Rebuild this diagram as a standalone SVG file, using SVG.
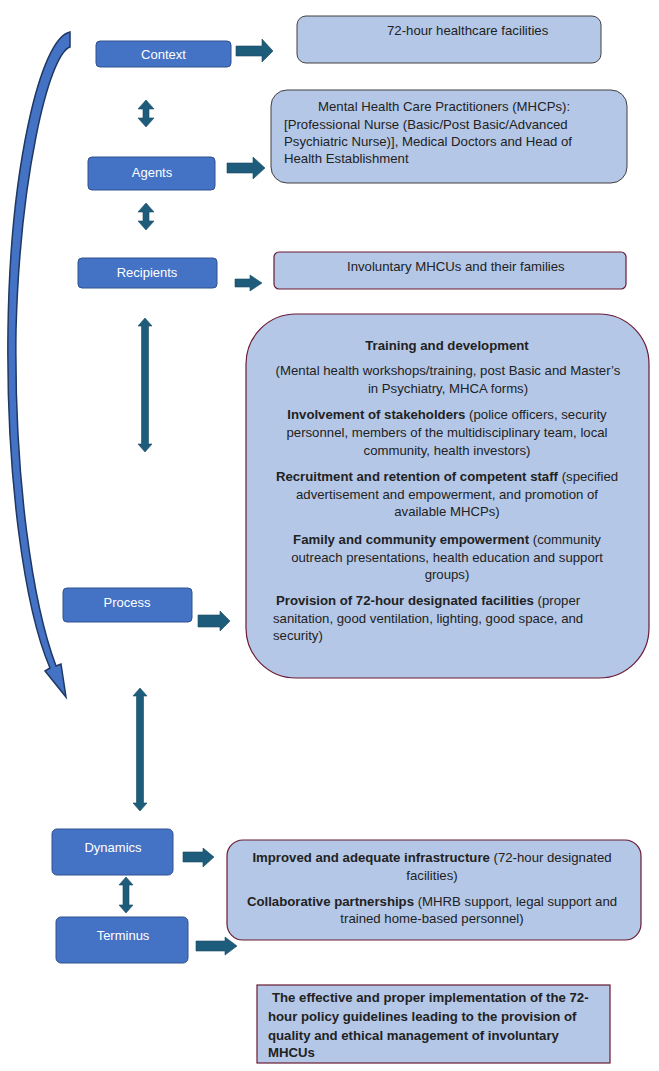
<svg xmlns="http://www.w3.org/2000/svg" width="659" height="1071" viewBox="0 0 659 1071">
<style>
.node{fill:#4472c4;stroke:#2f528f;stroke-width:1}
.ntxt{font-family:"Liberation Sans",Arial,sans-serif;font-size:13px;fill:#ffffff;text-anchor:middle}
.lbox{fill:#b4c7e7;stroke:#404040;stroke-width:1}
.mbox{fill:#b4c7e7;stroke:#6a1a33;stroke-width:1.2}
.t{font-family:"Liberation Sans",Arial,sans-serif;font-size:13.2px;fill:#222222}
.c{text-anchor:middle}
.b{font-weight:bold}
.arr{fill:#1e5c7b;stroke:#17495f;stroke-width:0.6}
.curve{fill:#4472c4;stroke:#1f3864;stroke-width:1.5;stroke-linejoin:miter}
</style>
<rect width="659" height="1071" fill="#ffffff"/>

<g id="connectors">
  <path class="curve" d="M70,32 L70,47 C48,55 20,180 16,330 C14,480 33,605 56,666 L61,664 L66,697 L45,671 L50,668 C25,610 6,480 8,330 C10,170 40,38 70,32 Z"/>
  <polygon class="arr" points="236,46 262,46 262,39 273,51 262,62 262,56 236,56"/>
  <polygon class="arr" points="227,163 253,163 253,157 265,168 253,179 253,173 227,173"/>
  <polygon class="arr" points="235,279 250,279 250,275 262,283 250,291 250,287 235,287"/>
  <polygon class="arr" points="198,615 220,615 220,611 230,621 220,631 220,627 198,627"/>
  <polygon class="arr" points="183,852 203,852 203,848 214,857 203,867 203,862 183,862"/>
  <polygon class="arr" points="196,941 225,941 225,937 237,946 225,955 225,951 196,951"/>
  <polygon class="arr" points="146,100 154,109 149,109 149,118 154,118 146,127 138,118 143,118 143,109 138,109"/>
  <polygon class="arr" points="146,203 154,212 149,212 149,221 154,221 146,230 138,221 143,221 143,212 138,212"/>
  <polygon class="arr" points="145,318 152,326 148.5,326 148.5,444 152,444 145,452 138,444 141.5,444 141.5,326 138,326"/>
  <polygon class="arr" points="140,688 147,696 143.5,696 143.5,803 147,803 140,811 133,803 136.5,803 136.5,696 133,696"/>
  <polygon class="arr" points="126,877 133,885 129,885 129,905 133,905 126,913 119,905 123,905 123,885 119,885"/>
</g>

<g id="context">
  <rect class="node" x="96" y="41" width="135" height="26" rx="4"/>
  <text class="ntxt" x="163.5" y="58.5">Context</text>
</g>
<g id="context-detail">
  <rect class="lbox" x="297" y="16" width="304" height="47" rx="9"/>
  <text class="t" x="387" y="35">72-hour healthcare facilities</text>
</g>

<g id="agents">
  <rect class="node" x="88" y="157" width="127" height="33" rx="4"/>
  <text class="ntxt" x="152" y="176.5">Agents</text>
</g>
<g id="agents-detail">
  <rect class="lbox" x="271" y="90" width="356" height="93" rx="16"/>
  <text class="t" x="318" y="111">Mental Health Care Practitioners (MHCPs):</text>
  <text class="t" x="284" y="129">[Professional Nurse (Basic/Post Basic/Advanced</text>
  <text class="t" x="284" y="146">Psychiatric Nurse)], Medical Doctors and Head of</text>
  <text class="t" x="284" y="163">Health Establishment</text>
</g>

<g id="recipients">
  <rect class="node" x="78" y="258" width="139" height="30" rx="4"/>
  <text class="ntxt" x="147" y="276.5">Recipients</text>
</g>
<g id="recipients-detail">
  <rect class="mbox" x="274" y="252" width="352" height="37" rx="5"/>
  <text class="t" x="347" y="271">Involuntary MHCUs and their families</text>
</g>

<g id="process-detail">
  <rect class="mbox" x="246" y="314" width="403" height="364" rx="50"/>
  <text class="t c b" x="447" y="350">Training and development</text>
  <text class="t c" x="448" y="375">(Mental health workshops/training, post Basic and Master’s</text>
  <text class="t c" x="448" y="393">in Psychiatry, MHCA forms)</text>
  <text class="t c" x="447" y="419"><tspan class="b">Involvement of stakeholders</tspan> (police officers, security</text>
  <text class="t c" x="447" y="437">personnel, members of the multidisciplinary team, local</text>
  <text class="t c" x="447" y="455">community, health investors)</text>
  <text class="t c" x="447" y="481"><tspan class="b">Recruitment and retention of competent staff</tspan> (specified</text>
  <text class="t c" x="447" y="499">advertisement and empowerment, and promotion of</text>
  <text class="t c" x="447" y="516">available MHCPs)</text>
  <text class="t c" x="447" y="544"><tspan class="b">Family and community empowerment</tspan> (community</text>
  <text class="t c" x="447" y="562">outreach presentations, health education and support</text>
  <text class="t c" x="447" y="579">groups)</text>
  <text class="t" x="276" y="605"><tspan class="b">Provision of 72-hour designated facilities</tspan> (proper</text>
  <text class="t" x="273" y="623">sanitation, good ventilation, lighting, good space, and</text>
  <text class="t" x="273" y="640">security)</text>
</g>

<g id="process">
  <rect class="node" x="63" y="588" width="129" height="34" rx="4"/>
  <text class="ntxt" x="127" y="606.5">Process</text>
</g>

<g id="dynamics">
  <rect class="node" x="52" y="829" width="121" height="46" rx="5"/>
  <text class="ntxt" x="113" y="851.5">Dynamics</text>
</g>
<g id="terminus">
  <rect class="node" x="56" y="917" width="132" height="46" rx="5"/>
  <text class="ntxt" x="123" y="939.5">Terminus</text>
</g>
<g id="dynamics-detail">
  <rect class="mbox" x="227" y="840" width="414" height="100" rx="16"/>
  <text class="t c" x="432" y="862"><tspan class="b">Improved and adequate infrastructure</tspan> (72-hour designated</text>
  <text class="t c" x="432" y="880">facilities)</text>
  <text class="t c" x="432" y="906"><tspan class="b">Collaborative partnerships</tspan> (MHRB support, legal support and</text>
  <text class="t c" x="432" y="923">trained home-based personnel)</text>
</g>

<g id="outcome">
  <rect class="mbox" x="257" y="985" width="353" height="78"/>
  <text class="t b" x="272" y="1001.5">The effective and proper implementation of the 72-</text>
  <text class="t b" x="268" y="1020.5">hour policy guidelines leading to the provision of</text>
  <text class="t b" x="268" y="1039.5">quality and ethical management of involuntary</text>
  <text class="t b" x="268" y="1056.5">MHCUs</text>
</g>
</svg>
